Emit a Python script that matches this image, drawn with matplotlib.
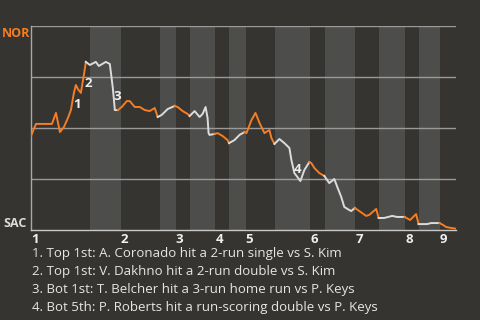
import numpy as np
import matplotlib
matplotlib.use("Agg")
import matplotlib.pyplot as plt

# game progress (0-100) and NOR win probability at each play
play = [0, 1.17, 4.93, 5.87, 6.81, 7.75, 8.69, 9.39, 10.09, 10.56, 11.03, 11.74,
        12.44, 12.91, 13.85, 15.26, 15.96, 17.61, 18.54, 18.78, 19.25, 19.60,
        19.72, 20.42, 21.36, 22.54, 23.24, 24.41, 25.59, 26.76, 27.93, 29.11,
        29.81, 30.75, 32.16, 33.80, 34.51, 35.68, 36.85, 37.32, 38.50, 39.67,
        40.38, 41.08, 41.55, 41.78, 42.02, 43.19, 43.90, 45.07, 46.24, 46.6,
        47.89, 49.06, 50.23, 50.70, 51.88, 52.82, 53.76, 54.93, 56.10, 56.57,
        57.28, 58.45, 59.62, 60.80, 61.27, 61.97, 62.68, 63.38, 64.32, 65.49,
        65.96, 66.67, 67.84, 69.01, 70.19, 71.36, 72.07, 73.00, 73.71, 74.88,
        75.35, 76.2, 77.23, 78.87, 79.58, 81.22, 81.8, 83.10, 84.98, 86.15,
        87.9, 89.20, 90.61, 91.2, 93.19, 94.13, 96.1, 96.95, 97.65, 98.83, 99.77]
nor_wp = [0.461, 0.520, 0.520, 0.574, 0.480, 0.505, 0.549, 0.588, 0.672, 0.711,
          0.691, 0.672, 0.760, 0.824, 0.809, 0.824, 0.804, 0.824, 0.814, 0.775,
          0.696, 0.618, 0.588, 0.588, 0.603, 0.632, 0.632, 0.603, 0.603, 0.588,
          0.583, 0.598, 0.554, 0.564, 0.593, 0.608, 0.603, 0.583, 0.569, 0.559,
          0.583, 0.554, 0.569, 0.603, 0.549, 0.475, 0.466, 0.471, 0.475, 0.461,
          0.441, 0.426, 0.441, 0.466, 0.480, 0.475, 0.539, 0.574, 0.525, 0.475,
          0.490, 0.451, 0.422, 0.446, 0.426, 0.402, 0.343, 0.279, 0.260, 0.240,
          0.294, 0.333, 0.328, 0.304, 0.279, 0.265, 0.230, 0.250, 0.211, 0.162,
          0.113, 0.098, 0.093, 0.108, 0.093, 0.069, 0.074, 0.103, 0.059, 0.059,
          0.069, 0.064, 0.064, 0.049, 0.078, 0.029, 0.029, 0.034, 0.034, 0.025,
          0.015, 0.010, 0.007]

# start of each half inning (top, bottom, top, ...)
half_starts = [0, 13.8, 21.1, 30.3, 34.0, 37.4, 43.4, 46.7, 50.5, 57.4,
               65.7, 69.1, 76.3, 81.9, 88.0, 91.3, 96.2]
game_end = 100
innings = ["1", "2", "3", "4", "5", "6", "7", "8", "9"]

event_x = [10.8, 13.4, 20.4, 62.7]
event_y = [0.613, 0.716, 0.652, 0.299]
events = [
    "Top 1st: A. Coronado hit a 2-run single vs S. Kim",
    "Top 1st: V. Dakhno hit a 2-run double vs S. Kim",
    "Bot 1st: T. Belcher hit a 3-run home run vs P. Keys",
    "Bot 5th: P. Roberts hit a run-scoring double vs P. Keys",
]

bg = "#363431"
band = "#4d4d4b"
orange = "#f57d23"
white = "#dcdcdc"

plt.rcParams["font.family"] = ["Open Sans", "DejaVu Sans"]

fig = plt.figure(figsize=(4.8, 3.2), dpi=100, facecolor=bg)
ax = fig.add_axes([31 / 480, 1 - 230 / 320, 425 / 480, 204 / 320])
ax.set_facecolor(bg)

# shaded bottom halves
ends = half_starts[1:] + [game_end]
for k in range(1, len(half_starts), 2):
    ax.axvspan(half_starts[k], ends[k], color=band, lw=0, zorder=0)

for yv in [0.25, 0.5, 0.75, 1.0]:
    ax.axhline(yv, color="#9a9a9a", lw=1, zorder=1)

# line coloured by batting team
seg_half = [np.searchsorted(half_starts, play[i + 1], side="right") - 1
            for i in range(len(play) - 1)]
i = 0
while i < len(seg_half):
    j = i
    while j + 1 < len(seg_half) and seg_half[j + 1] % 2 == seg_half[i] % 2:
        j += 1
    c = orange if seg_half[i] % 2 == 0 else white
    ax.plot(play[i:j + 2], nor_wp[i:j + 2], color=c, lw=1.4, zorder=3,
            solid_joinstyle="round")
    i = j + 1

for n, (ex, ey) in enumerate(zip(event_x, event_y)):
    ax.text(ex, ey, str(n + 1), color="#f0f0f0", fontsize=9.5, fontweight="bold",
            ha="center", va="center", zorder=4)

ax.set_xlim(0, game_end)
ax.set_ylim(0, 1)
for s in ["top", "right"]:
    ax.spines[s].set_visible(False)
ax.spines["left"].set_color("#a8a8a8")
ax.spines["bottom"].set_color("#c8c8c8")
ax.spines["left"].set_linewidth(1)
ax.spines["bottom"].set_linewidth(1)

ax.set_yticks([])
ax.set_xticks(half_starts[::2])
ax.set_xticklabels(innings, ha="left", color="#f0f0f0", fontsize=9.5,
                   fontweight="bold")
ax.tick_params(axis="x", length=0, pad=2)

fig.text(2 / 480, 1 - 27 / 320, "NOR", ha="left", va="top",
         color=orange, fontsize=9, fontweight="bold")
fig.text(3 / 480, 1 - 227 / 320, "SAC", ha="left", va="baseline",
         color="#dcdcdc", fontsize=9, fontweight="bold")

for n, txt in enumerate(events):
    fig.text(32 / 480, 1 - (254 + 18 * n) / 320, f"{n + 1}. {txt}",
             color="#e6e6e6", fontsize=9.5, va="center", ha="left")

fig.savefig("out.png", dpi=100, facecolor=bg)
